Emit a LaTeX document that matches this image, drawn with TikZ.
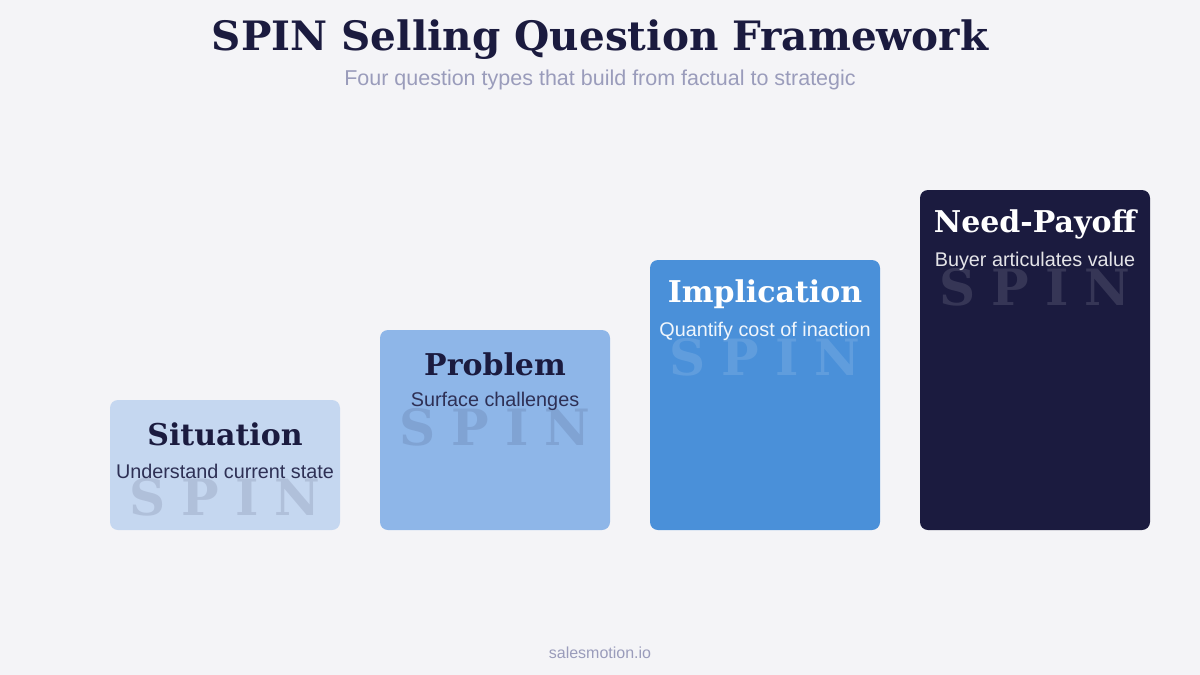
\documentclass[tikz,border=0pt]{standalone}
\usepackage{fontspec}
\setmainfont{Liberation Sans}
\newfontfamily\serifbold{DejaVu Serif}
\usepackage{tikz}
\definecolor{bgcol}{HTML}{F4F4F7}
\definecolor{navy}{HTML}{1B1B3F}
\definecolor{muted}{HTML}{9A9CBB}
\definecolor{desccol}{HTML}{2E3055}
\definecolor{sitcol}{HTML}{C5D7F0}
\definecolor{probcol}{HTML}{8EB6E8}
\definecolor{implcol}{HTML}{4A90D9}
\definecolor{needcol}{HTML}{1B1B3F}
\newcommand{\spinword}{S\hskip16pt P\hskip16pt I\hskip16pt N}
\tikzset{
        stage/.style={rectangle,rounded corners=8pt,minimum width=230pt,draw=none},
        stagehead/.style={inner sep=0pt,font=\serifbold\bfseries\fontsize{30}{30}\selectfont},
        stagedesc/.style={inner sep=0pt,font=\fontsize{19.8}{20}\selectfont},
        spinmark/.style={inner sep=0pt,text opacity=0.12,font=\serifbold\bfseries\fontsize{50}{50}\selectfont}
    }

\begin{document}
\begin{tikzpicture}[x=1pt,y=-1pt]

\fill[bgcol] (0,0) rectangle (1200,675);
\useasboundingbox (0,0) rectangle (1200,675);

\draw (600,40) node(TITLE)[inner sep=0pt,text=navy,font=\serifbold\bfseries\fontsize{40.5}{41}\selectfont]{SPIN Selling Question Framework};
\draw (600,80) node(SUB)[inner sep=0pt,text=muted,font=\fontsize{21.5}{22}\selectfont]{Four question types that build from factual to strategic};

% stages
\draw (225,465) node(SIT)[stage,fill=sitcol,minimum height=130pt]{};
\draw (495,430) node(PROB)[stage,fill=probcol,minimum height=200pt]{};
\draw (765,395) node(IMPL)[stage,fill=implcol,minimum height=270pt]{};
\draw (1035,360) node(NEED)[stage,fill=needcol,minimum height=340pt]{};

\draw (225,497) node(SITW)[spinmark,text=navy]{\spinword};
\draw (495,427) node(PROBW)[spinmark,text=navy]{\spinword};
\draw (765,357) node(IMPLW)[spinmark,text=white]{\spinword};
\draw (1035,287) node(NEEDW)[spinmark,text=white]{\spinword};

\draw (225,434) node(SITH)[stagehead,text=navy]{Situation};
\draw (495,364) node(PROBH)[stagehead,text=navy]{Problem};
\draw (765,294) node(IMPLH)[stagehead,text=white]{Implication};
\draw (1035,224) node(NEEDH)[stagehead,text=white]{Need-Payoff};

\draw (225,471) node(SITD)[stagedesc,text=desccol]{Understand current state};
\draw (495,401) node(PROBD)[stagedesc,text=desccol]{Surface challenges};
\draw (765,331) node(IMPLD)[stagedesc,text=white!92!implcol]{Quantify cost of inaction};
\draw (1035,261) node(NEEDD)[stagedesc,text=white!88!needcol]{Buyer articulates value};

\draw (600,653) node(FOOT)[inner sep=0pt,text=muted,font=\fontsize{16}{16}\selectfont]{salesmotion.io};

\end{tikzpicture}
\end{document}
